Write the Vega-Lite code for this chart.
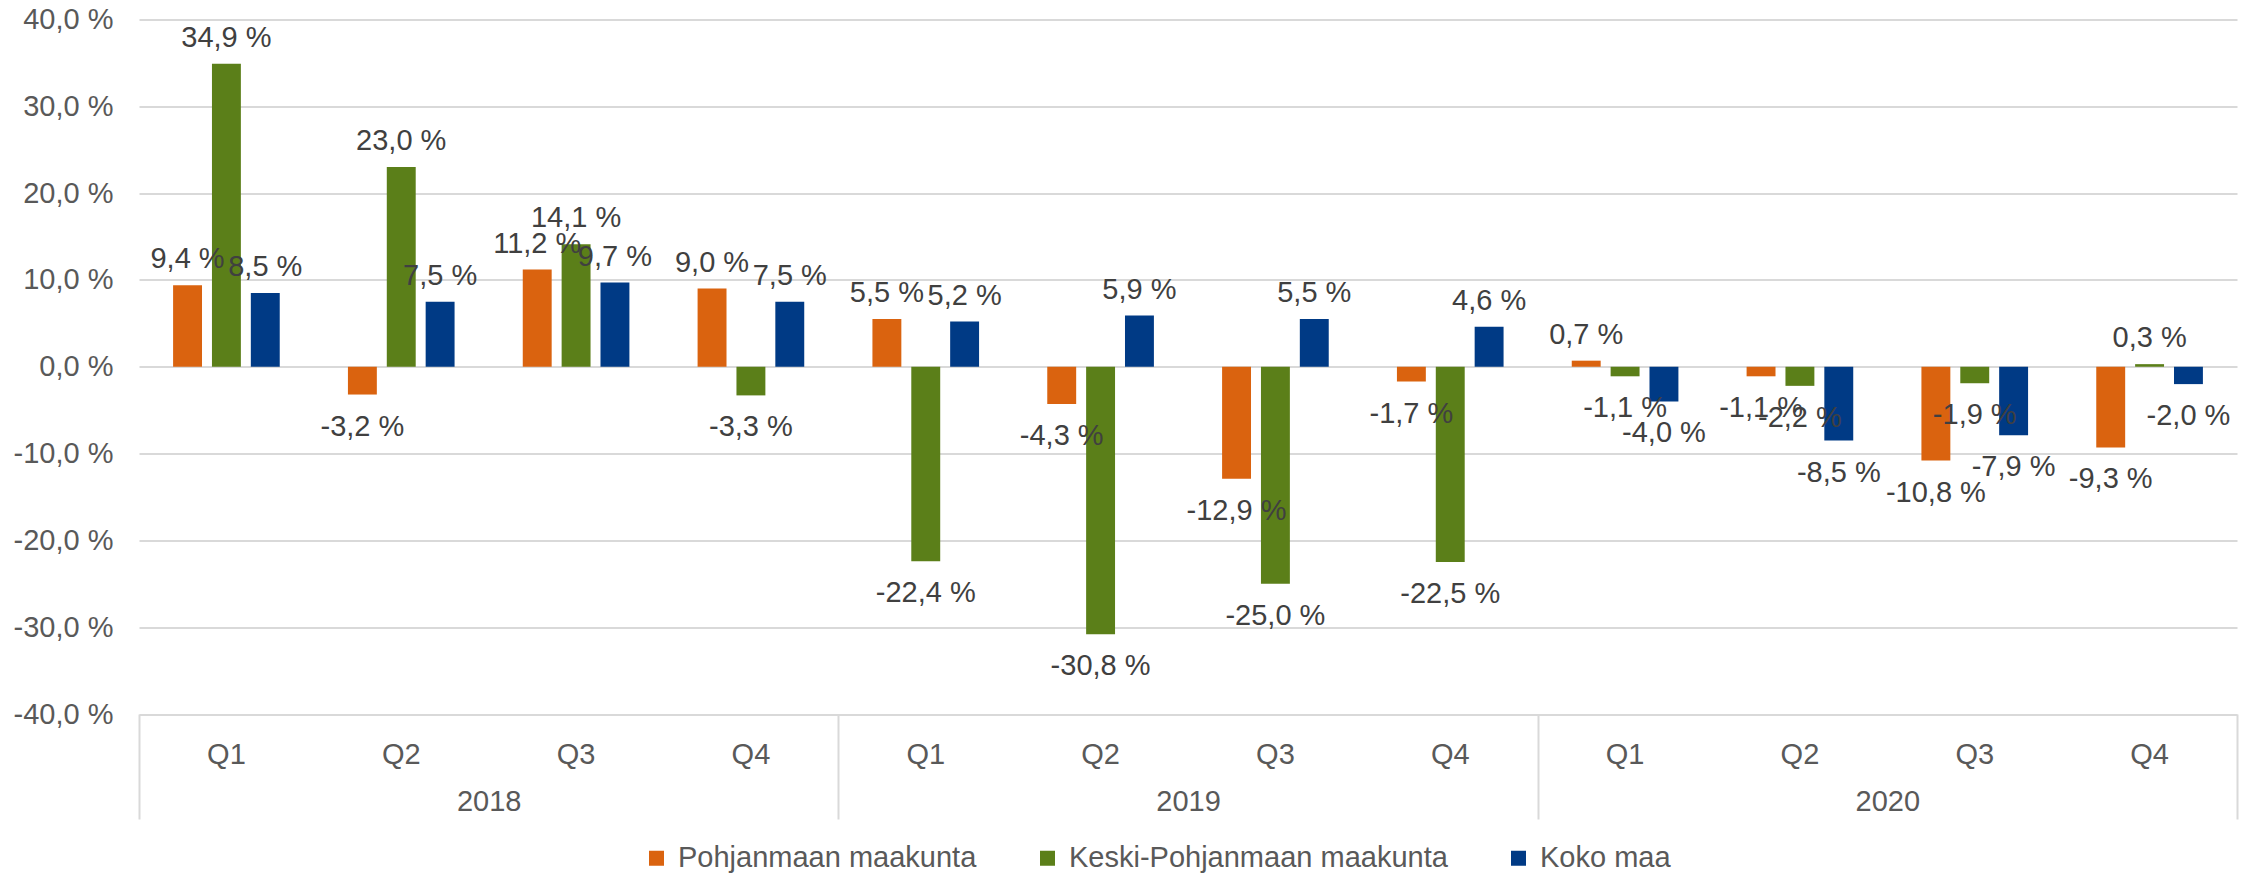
{
  "$schema": "https://vega.github.io/schema/vega-lite/v6.json",
  "width": 2098,
  "height": 694.5,
  "autosize": {"type": "none"},
  "padding": {"left": 139, "top": 19.5, "right": 16, "bottom": 161},
  "background": "white",
  "config": {
    "view": {"stroke": null},
    "font": "Liberation Sans",
    "locale": {"number": {"decimal": ",", "thousands": " ", "grouping": [3], "currency": ["", " €"], "minus": "-"}}
  },
  "datasets": {
    "main": [
      {"period": "2018 Q1", "series": "Pohjanmaan maakunta", "value": 9.4, "label": "9,4 %"},
      {"period": "2018 Q1", "series": "Keski-Pohjanmaan maakunta", "value": 34.9, "label": "34,9 %"},
      {"period": "2018 Q1", "series": "Koko maa", "value": 8.5, "label": "8,5 %"},
      {"period": "2018 Q2", "series": "Pohjanmaan maakunta", "value": -3.2, "label": "-3,2 %"},
      {"period": "2018 Q2", "series": "Keski-Pohjanmaan maakunta", "value": 23.0, "label": "23,0 %"},
      {"period": "2018 Q2", "series": "Koko maa", "value": 7.5, "label": "7,5 %"},
      {"period": "2018 Q3", "series": "Pohjanmaan maakunta", "value": 11.2, "label": "11,2 %"},
      {"period": "2018 Q3", "series": "Keski-Pohjanmaan maakunta", "value": 14.1, "label": "14,1 %"},
      {"period": "2018 Q3", "series": "Koko maa", "value": 9.7, "label": "9,7 %"},
      {"period": "2018 Q4", "series": "Pohjanmaan maakunta", "value": 9.0, "label": "9,0 %"},
      {"period": "2018 Q4", "series": "Keski-Pohjanmaan maakunta", "value": -3.3, "label": "-3,3 %"},
      {"period": "2018 Q4", "series": "Koko maa", "value": 7.5, "label": "7,5 %"},
      {"period": "2019 Q1", "series": "Pohjanmaan maakunta", "value": 5.5, "label": "5,5 %"},
      {"period": "2019 Q1", "series": "Keski-Pohjanmaan maakunta", "value": -22.4, "label": "-22,4 %"},
      {"period": "2019 Q1", "series": "Koko maa", "value": 5.2, "label": "5,2 %"},
      {"period": "2019 Q2", "series": "Pohjanmaan maakunta", "value": -4.3, "label": "-4,3 %"},
      {"period": "2019 Q2", "series": "Keski-Pohjanmaan maakunta", "value": -30.8, "label": "-30,8 %"},
      {"period": "2019 Q2", "series": "Koko maa", "value": 5.9, "label": "5,9 %"},
      {"period": "2019 Q3", "series": "Pohjanmaan maakunta", "value": -12.9, "label": "-12,9 %"},
      {"period": "2019 Q3", "series": "Keski-Pohjanmaan maakunta", "value": -25.0, "label": "-25,0 %"},
      {"period": "2019 Q3", "series": "Koko maa", "value": 5.5, "label": "5,5 %"},
      {"period": "2019 Q4", "series": "Pohjanmaan maakunta", "value": -1.7, "label": "-1,7 %"},
      {"period": "2019 Q4", "series": "Keski-Pohjanmaan maakunta", "value": -22.5, "label": "-22,5 %"},
      {"period": "2019 Q4", "series": "Koko maa", "value": 4.6, "label": "4,6 %"},
      {"period": "2020 Q1", "series": "Pohjanmaan maakunta", "value": 0.7, "label": "0,7 %"},
      {"period": "2020 Q1", "series": "Keski-Pohjanmaan maakunta", "value": -1.1, "label": "-1,1 %"},
      {"period": "2020 Q1", "series": "Koko maa", "value": -4.0, "label": "-4,0 %"},
      {"period": "2020 Q2", "series": "Pohjanmaan maakunta", "value": -1.1, "label": "-1,1 %"},
      {"period": "2020 Q2", "series": "Keski-Pohjanmaan maakunta", "value": -2.2, "label": "-2,2 %"},
      {"period": "2020 Q2", "series": "Koko maa", "value": -8.5, "label": "-8,5 %"},
      {"period": "2020 Q3", "series": "Pohjanmaan maakunta", "value": -10.8, "label": "-10,8 %"},
      {"period": "2020 Q3", "series": "Keski-Pohjanmaan maakunta", "value": -1.9, "label": "-1,9 %"},
      {"period": "2020 Q3", "series": "Koko maa", "value": -7.9, "label": "-7,9 %"},
      {"period": "2020 Q4", "series": "Pohjanmaan maakunta", "value": -9.3, "label": "-9,3 %"},
      {"period": "2020 Q4", "series": "Keski-Pohjanmaan maakunta", "value": 0.3, "label": "0,3 %"},
      {"period": "2020 Q4", "series": "Koko maa", "value": -2.0, "label": "-2,0 %"}
    ],
    "years": [{"year": "2018"}, {"year": "2019"}, {"year": "2020"}]
  },
  "layer": [
    {
      "data": {"name": "main"},
      "encoding": {
        "x": {
          "field": "period", "type": "nominal",
          "scale": {"paddingInner": 0.39, "paddingOuter": 0.195},
          "axis": {"title": null, "labelExpr": "slice(datum.value, 5)", "ticks": false, "domain": false, "labelPadding": 26, "labelFontSize": 29, "labelColor": "#595959", "labelAngle": 0, "grid": false}
        },
        "xOffset": {
          "field": "series", "type": "nominal",
          "scale": {"domain": ["Pohjanmaan maakunta", "Keski-Pohjanmaan maakunta", "Koko maa"], "paddingInner": 0.256, "paddingOuter": 0}
        },
        "y": {
          "field": "value", "type": "quantitative",
          "scale": {"domain": [-40, 40], "nice": false},
          "axis": {"title": null, "values": [-40, -30, -20, -10, 0, 10, 20, 30, 40], "format": ".1f", "labelExpr": "datum.label + ' %'", "grid": true, "gridColor": "#d9d9d9", "gridWidth": 2, "domain": false, "ticks": false, "labelPadding": 26, "labelFontSize": 29, "labelColor": "#595959"}
        }
      },
      "layer": [
        {
          "mark": {"type": "bar"},
          "encoding": {
            "color": {
              "field": "series", "type": "nominal",
              "scale": {"domain": ["Pohjanmaan maakunta", "Keski-Pohjanmaan maakunta", "Koko maa"], "range": ["#DA630F", "#5B7F19", "#003A85"]},
              "legend": {"orient": "none", "legendX": 503, "legendY": 824, "direction": "horizontal", "title": null, "symbolType": "square", "symbolSize": 225, "symbolStrokeWidth": 0, "labelFontSize": 29, "labelColor": "#595959", "columnPadding": 56, "labelOffset": 7, "labelLimit": 600}
            }
          }
        },
        {
          "transform": [{"filter": "datum.value >= 0"}],
          "mark": {"type": "text", "baseline": "alphabetic", "align": "center", "dy": -17, "fontSize": 29, "color": "#404040"},
          "encoding": {"text": {"field": "label"}}
        },
        {
          "transform": [{"filter": "datum.value < 0"}],
          "mark": {"type": "text", "baseline": "alphabetic", "align": "center", "dy": 41, "fontSize": 29, "color": "#404040"},
          "encoding": {"text": {"field": "label"}}
        }
      ]
    },
    {
      "data": {"name": "years"},
      "mark": {"type": "tick", "opacity": 0},
      "encoding": {
        "x": {
          "field": "year", "type": "ordinal",
          "scale": {"paddingInner": 0, "paddingOuter": 0},
          "axis": {"orient": "bottom", "title": null, "domain": false, "ticks": true, "tickBand": "extent", "tickSize": 105, "tickColor": "#d9d9d9", "tickWidth": 2, "labelPadding": -32, "labelFontSize": 29, "labelColor": "#595959", "labelAngle": 0, "grid": false}
        }
      }
    }
  ],
  "resolve": {"scale": {"x": "independent"}, "axis": {"x": "independent"}}
}
